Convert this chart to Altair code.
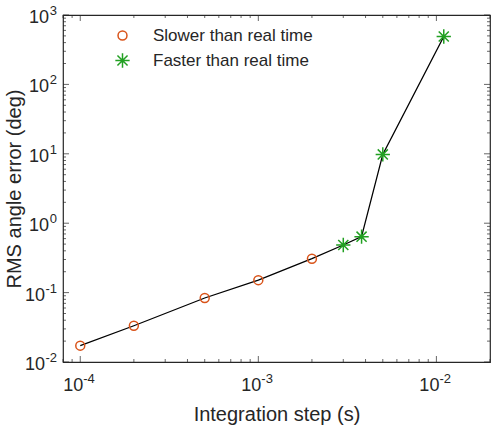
import altair as alt
import pandas as pd

# Integration step sizes (s) and the resulting RMS angle error (deg)
steps = [1e-4, 2e-4, 5e-4, 1e-3, 2e-3, 3e-3, 3.8e-3, 5e-3, 1.1e-2]
rms_error = [0.0172, 0.0333, 0.0836, 0.151, 0.308, 0.485, 0.64, 9.8, 490]
speed = [
    "Slower than real time", "Slower than real time", "Slower than real time",
    "Slower than real time", "Slower than real time",
    "Faster than real time", "Faster than real time",
    "Faster than real time", "Faster than real time",
]
speed_classes = ["Slower than real time", "Faster than real time"]

# Axis ranges and decade tick exponents
x_domain = [8e-5, 2e-2]
y_domain = [1e-2, 1e3]
x_exponents = [-4, -3, -2]
y_exponents = [-2, -1, 0, 1, 2, 3]
minor_multipliers = [2, 3, 4, 5, 6, 7, 8, 9]

W, H = 427, 347
FONT = "Liberation Sans"
INK = "#262626"
ORANGE = "#D95319"
GREEN = "#22A022"
STAR = ("M-1.6,0L1.6,0M0,-1.6L0,1.6"
        "M-1.13,-1.13L1.13,1.13M-1.13,1.13L1.13,-1.13")

df = pd.DataFrame({"step": steps, "err": rms_error, "speed": speed})

xs = alt.Scale(type="log", domain=x_domain, nice=False)
ys = alt.Scale(type="log", domain=y_domain, nice=False)

# Axes carry only the titles; ticks and labels are drawn as layers
x_axis = alt.Axis(
    title="Integration step (s)", labels=False, ticks=False, domain=False,
    grid=False, titleFont=FONT, titleFontSize=20, titleFontWeight="normal",
    titleColor=INK, titlePadding=42)
y_axis = alt.Axis(
    title="RMS angle error (deg)", labels=False, ticks=False, domain=False,
    grid=False, titleFont=FONT, titleFontSize=20, titleFontWeight="normal",
    titleColor=INK, titlePadding=39)


def X(field):
    return alt.X(field, scale=xs, axis=x_axis)


def Y(field):
    return alt.Y(field, scale=ys, axis=y_axis)


def in_range(v, dom):
    return dom[0] * 0.9999 <= v <= dom[1] * 1.0001


def minor_values(exps, dom):
    vals = []
    for e in range(min(exps) - 1, max(exps) + 1):
        for m in minor_multipliers:
            v = m * 10.0 ** e
            if in_range(v, dom):
                vals.append(v)
    return vals


x_major = pd.DataFrame({"v": [10.0 ** e for e in x_exponents]})
x_minor = pd.DataFrame({"v": minor_values(x_exponents, x_domain)})
y_major = pd.DataFrame({"v": [10.0 ** e for e in y_exponents]})
y_minor = pd.DataFrame({"v": minor_values(y_exponents, y_domain)})

x_lab = pd.DataFrame({
    "v": [10.0 ** e for e in x_exponents],
    "base": ["10"] * len(x_exponents),
    "exp": [str(e) for e in x_exponents],
})
y_lab = pd.DataFrame({
    "v": [10.0 ** e for e in y_exponents],
    "base": ["10"] * len(y_exponents),
    "exp": [str(e) for e in y_exponents],
    "neg": [e < 0 for e in y_exponents],
})

legend = alt.Legend(
    title=None, orient="none", legendX=51, legendY=12, padding=0,
    labelFont=FONT, labelFontSize=17, labelColor=INK, labelOffset=22,
    symbolSize=80, symbolStrokeWidth=1.5, rowPadding=6,
)

line = alt.Chart(df).mark_line(color="black", strokeWidth=1.3).encode(
    x=X("step:Q"), y=Y("err:Q"),
)

points = alt.Chart(df).mark_point(filled=False, size=80, strokeWidth=1.5, opacity=1).encode(
    x=X("step:Q"), y=Y("err:Q"),
    color=alt.Color("speed:N", scale=alt.Scale(domain=speed_classes, range=[ORANGE, GREEN]),
                    legend=legend),
    shape=alt.Shape("speed:N", scale=alt.Scale(domain=speed_classes, range=["circle", STAR]),
                    legend=legend),
)


def xticks(data, length):
    # inward ticks on the bottom and top edges of the box
    bottom = alt.Chart(data).mark_tick(color=INK, thickness=1, size=length).encode(
        x=X("v:Q"), y=alt.value(H - length / 2))
    top = alt.Chart(data).mark_tick(color=INK, thickness=1, size=length).encode(
        x=X("v:Q"), y=alt.value(length / 2))
    return [bottom, top]


def yticks(data, length):
    # inward ticks on the left and right edges of the box
    left = alt.Chart(data).mark_tick(color=INK, thickness=1, size=length).encode(
        y=Y("v:Q"), x=alt.value(length / 2))
    right = alt.Chart(data).mark_tick(color=INK, thickness=1, size=length).encode(
        y=Y("v:Q"), x=alt.value(W - length / 2))
    return [left, right]


ticks = xticks(x_major, 6) + xticks(x_minor, 3) + yticks(y_major, 6) + yticks(y_minor, 3)

# Tick labels written as 10 with a raised exponent
x_base = alt.Chart(x_lab).mark_text(
    align="right", baseline="middle", dx=3, font=FONT, fontSize=18, color=INK
).encode(x=X("v:Q"), y=alt.value(H + 24), text="base:N")
x_exp = alt.Chart(x_lab).mark_text(
    align="left", baseline="middle", dx=3, font=FONT, fontSize=13, color=INK
).encode(x=X("v:Q"), y=alt.value(H + 17), text="exp:N")

y_base_neg = alt.Chart(y_lab).transform_filter("datum.neg").mark_text(
    align="right", baseline="middle", dy=3, font=FONT, fontSize=18, color=INK
).encode(y=Y("v:Q"), x=alt.value(-18), text="base:N")
y_base_pos = alt.Chart(y_lab).transform_filter("!datum.neg").mark_text(
    align="right", baseline="middle", dy=3, font=FONT, fontSize=18, color=INK
).encode(y=Y("v:Q"), x=alt.value(-14), text="base:N")
y_exp = alt.Chart(y_lab).mark_text(
    align="right", baseline="middle", dy=-4, font=FONT, fontSize=13, color=INK
).encode(y=Y("v:Q"), x=alt.value(-6), text="exp:N")

chart = alt.layer(
    line, *ticks, x_base, x_exp, y_base_neg, y_base_pos, y_exp, points
).properties(
    width=W, height=H,
    autosize=alt.AutoSizeParams(type="none"),
    padding={"left": 63, "top": 15, "right": 10, "bottom": 67},
    background="white",
).configure_view(
    stroke=INK, strokeWidth=1.2
)

chart.save("out.html", embed_options={"renderer": "svg", "actions": False})
